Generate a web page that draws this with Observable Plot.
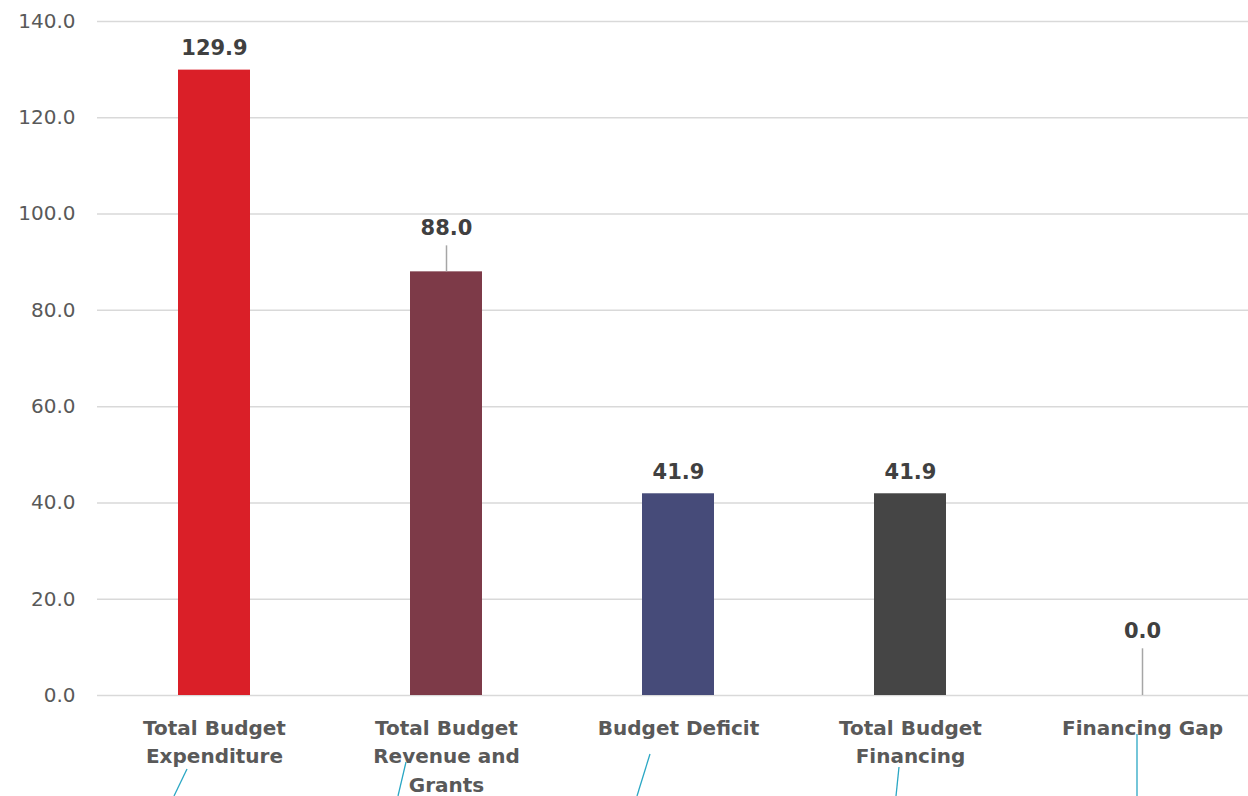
<!DOCTYPE html>
<html>
<head>
<meta charset="utf-8">
<script src="https://cdn.jsdelivr.net/npm/d3@7"></script>
<script src="https://cdn.jsdelivr.net/npm/@observablehq/plot@0.6"></script>
<style>
  html, body { margin: 0; padding: 0; background: #fff; }
  svg { display: block; }
</style>
</head>
<body>
<div id="chart"></div>
<script>
const categories = ["Total Budget Expenditure", "Total Budget Revenue and Grants", "Budget Deficit", "Total Budget Financing", "Financing Gap"];
const categoryLabels = ["Total Budget\nExpenditure", "Total Budget\nRevenue and\nGrants", "Budget Deficit", "Total Budget\nFinancing", "Financing Gap"];
const values = [129.9, 88.0, 41.9, 41.9, 0.0];
const barColors = ["#DA1F28", "#7D3A48", "#464B79", "#454545", "#A5A5A5"];
const yTicks = [0, 20, 40, 60, 80, 100, 120, 140];
// label lift above bar (in data units) for labels with leader lines
const labelLift = [0, 4.4, 0, 0, 8.7];

const data = categories.map((c, i) => ({cat: c, label: categoryLabels[i], value: values[i], lift: labelLift[i]}));

const font = "'DejaVu Sans', sans-serif";

const plot = Plot.plot({
  width: 1248,
  height: 796,
  marginLeft: 97,
  marginRight: 0,
  marginTop: 21,
  marginBottom: 101,
  style: {fontFamily: font, background: "#fff", overflow: "visible"},
  x: {domain: categories, range: [97, 1258], paddingInner: 0.69, paddingOuter: 0.345, axis: null},
  y: {domain: [0, 140], axis: null},
  color: {domain: categories, range: barColors},
  marks: [
    Plot.ruleY(yTicks, {stroke: "#d9d9d9", strokeWidth: 1.5}),
    Plot.text(yTicks, {
      y: d => d, frameAnchor: "left", text: d => d.toFixed(1),
      textAnchor: "end", dx: -22, fill: "#595959", fontSize: 20, fontWeight: "normal"
    }),
    Plot.barY(data, {x: "cat", y: "value", fill: "cat"}),
    // leader lines for lifted labels
    Plot.ruleX(data.filter(d => d.lift > 0), {
      x: "cat", y1: d => d.value, y2: d => d.value + d.lift + 1, stroke: "#a6a6a6", strokeWidth: 1.5
    }),
    Plot.text(data, {
      x: "cat", y: d => d.value + d.lift, text: d => d.value.toFixed(1),
      dy: -22, fill: "#404040", fontSize: 21, fontWeight: "bold"
    }),
    Plot.text(data, {
      x: "cat", y: 0, text: "label", dy: 19, lineAnchor: "top", lineHeight: 1.43,
      fill: "#595959", fontSize: 20, fontWeight: "bold"
    })
  ]
});

document.getElementById("chart").appendChild(plot);

// teal leader artifacts under the category labels, placed via the plot's scales
const xs = plot.scale("x");
const bw = xs.bandwidth;
const svg = d3.select(plot);
const leaderOffsets = [[-27, -40], [-40, -48], [-28, -41], [-11, -14], [-5, -5]];
const leaderTops = [769, 762, 754, 767, 734];
categories.forEach((c, i) => {
  const cx = xs.apply(c) + bw / 2;
  svg.append("line")
    .attr("x1", cx + leaderOffsets[i][0]).attr("y1", leaderTops[i])
    .attr("x2", cx + leaderOffsets[i][1]).attr("y2", 796)
    .attr("stroke", "#2aa7c4").attr("stroke-width", 1.3);
});
</script>
</body>
</html>
